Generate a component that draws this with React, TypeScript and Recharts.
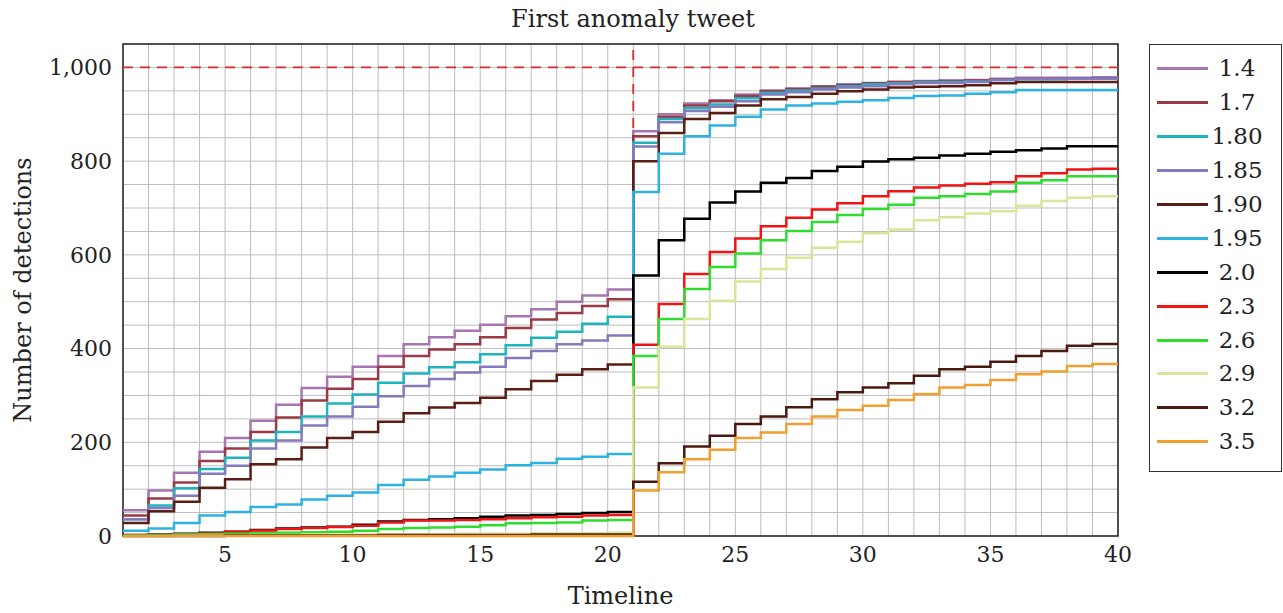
import React from 'react';
import {
    CartesianGrid,
    Label,
    Legend,
    Line,
    LineChart,
    ReferenceArea,
    ReferenceLine,
    XAxis,
    YAxis,
} from 'recharts';

const timeline = [
    1, 2, 3, 4, 5, 6, 7, 8, 9, 10, 11, 12, 13, 14, 15, 16, 17, 18, 19, 20,
    21, 22, 23, 24, 25, 26, 27, 28, 29, 30, 31, 32, 33, 34, 35, 36, 37, 38, 39, 40,
];
const xLabelTicks = [5, 10, 15, 20, 25, 30, 35, 40];
const yTicks = [0, 50, 100, 150, 200, 250, 300, 350, 400, 450, 500, 550, 600, 650, 700, 750, 800, 850, 900, 950, 1000, 1050];
const yLabelTicks = [0, 200, 400, 600, 800, 1000];

const s14 = [55, 97, 135, 180, 209, 246, 280, 316, 340, 361, 384, 409, 424, 438, 451, 469, 484, 500, 513, 526,
    864, 900, 923, 930, 942, 951, 955, 960, 964, 967, 969, 971, 972, 973, 976, 978, 978, 978, 979, 979];
const s17 = [44, 80, 114, 160, 187, 222, 253, 289, 314, 335, 361, 384, 398, 409, 424, 444, 462, 476, 491, 505,
    853, 895, 919, 928, 939, 949, 954, 959, 962, 966, 969, 970, 971, 972, 974, 976, 976, 977, 977, 977];
const s180 = [36, 65, 102, 143, 167, 204, 222, 255, 283, 302, 327, 347, 360, 371, 388, 407, 423, 436, 453, 468,
    839, 890, 913, 921, 934, 946, 951, 955, 960, 964, 966, 969, 969, 970, 973, 975, 975, 976, 976, 976];
const s185 = [36, 60, 86, 133, 150, 187, 204, 236, 255, 276, 298, 320, 335, 349, 361, 380, 395, 409, 417, 428,
    831, 883, 907, 916, 928, 942, 947, 953, 957, 960, 964, 967, 967, 969, 973, 976, 976, 976, 976, 976];
const s190 = [28, 53, 73, 103, 121, 153, 164, 189, 209, 222, 244, 262, 274, 284, 295, 313, 331, 344, 356, 366,
    800, 860, 890, 903, 919, 932, 937, 944, 949, 953, 957, 959, 960, 962, 966, 969, 969, 969, 969, 969];
const s195 = [11, 16, 28, 44, 51, 62, 67, 78, 86, 93, 109, 120, 127, 135, 142, 151, 156, 165, 169, 175,
    734, 816, 853, 876, 895, 910, 919, 923, 927, 930, 935, 939, 940, 944, 947, 952, 952, 952, 952, 952];
const s20 = [2, 3, 5, 7, 9, 13, 16, 18, 20, 24, 31, 34, 36, 38, 41, 44, 45, 47, 49, 51,
    556, 631, 677, 712, 735, 754, 764, 779, 788, 799, 804, 807, 812, 816, 820, 823, 827, 832, 832, 832];
const s23 = [1, 2, 4, 6, 9, 12, 15, 17, 19, 22, 29, 33, 33, 34, 36, 38, 40, 41, 44, 45,
    408, 495, 559, 606, 635, 661, 679, 697, 710, 725, 736, 744, 748, 752, 755, 768, 774, 782, 784, 784];
const s26 = [1, 2, 3, 4, 5, 6, 7, 8, 9, 11, 15, 17, 18, 20, 23, 27, 28, 29, 33, 34,
    384, 463, 527, 574, 603, 631, 651, 670, 685, 698, 707, 722, 725, 730, 735, 754, 759, 768, 768, 768];
const s29 = [0, 0, 1, 1, 1, 2, 2, 3, 3, 3, 4, 4, 4, 5, 5, 5, 6, 6, 6, 7,
    317, 404, 463, 502, 543, 570, 594, 615, 628, 646, 654, 674, 680, 688, 693, 705, 715, 722, 725, 725];
const s32 = [0, 0, 0, 0, 1, 1, 1, 1, 1, 1, 2, 2, 2, 2, 2, 2, 3, 3, 3, 3,
    116, 155, 191, 214, 239, 255, 275, 292, 307, 317, 326, 342, 356, 361, 372, 384, 395, 406, 410, 410];
const s35 = [0, 0, 0, 0, 0, 0, 0, 0, 0, 0, 0, 0, 0, 0, 0, 0, 0, 0, 0, 0,
    97, 136, 164, 184, 209, 221, 239, 255, 269, 278, 290, 303, 317, 322, 333, 345, 351, 363, 367, 367];

const series = [
    { key: 's14', name: '1.4', color: '#a776b2', values: s14 },
    { key: 's17', name: '1.7', color: '#9a3a44', values: s17 },
    { key: 's180', name: '1.80', color: '#1fb3be', values: s180 },
    { key: 's185', name: '1.85', color: '#857abd', values: s185 },
    { key: 's190', name: '1.90', color: '#5a1e14', values: s190 },
    { key: 's195', name: '1.95', color: '#2db2e2', values: s195 },
    { key: 's20', name: '2.0', color: '#000000', values: s20 },
    { key: 's23', name: '2.3', color: '#f01414', values: s23 },
    { key: 's26', name: '2.6', color: '#30dc30', values: s26 },
    { key: 's29', name: '2.9', color: '#d9e59a', values: s29 },
    { key: 's32', name: '3.2', color: '#4a1a10', values: s32 },
    { key: 's35', name: '3.5', color: '#f0a030', values: s35 },
];

const data = timeline.map((t, i) => {
    const row: Record<string, number> = { t };
    series.forEach(s => { row[s.key] = s.values[i]; });
    return row;
});

const FONT = '"DejaVu Serif", serif';
const tickStyle = { fontFamily: FONT, fontSize: 22, fill: '#222' };

function renderLegend(props: any) {
    const payload = props.payload || [];
    return (
        <div style={{
            width: 131, height: 419, border: '1.5px solid #333', background: '#fff',
            paddingTop: 7, boxSizing: 'content-box', fontFamily: FONT, fontSize: 23, color: '#222',
        }}>
            {payload.map((entry: any) => (
                <div key={entry.value} style={{ height: 33.9, display: 'flex', alignItems: 'center' }}>
                    <div style={{ marginLeft: 7, width: 51, height: 3, background: entry.color }}/>
                    <div style={{ width: 58, textAlign: 'center', lineHeight: 1 }}>{entry.value}</div>
                </div>
            ))}
        </div>
    );
}

export default function App(): JSX.Element {
    return (
        <div style={{ position: 'absolute', left: 0, top: 0, width: 1283, height: 613, background: '#fff' }}>
            <div style={{
                position: 'absolute', left: 433, width: 400, top: 5, textAlign: 'center',
                fontFamily: FONT, fontSize: 24, color: '#222', lineHeight: 1.2,
            }}>
                First anomaly tweet
            </div>
            <LineChart width={1283} height={613} data={data} margin={{ top: 44, right: 165, bottom: 37, left: 0 }}>
                <CartesianGrid stroke="#bdbdbd" strokeWidth={1}/>
                <XAxis
                    dataKey="t"
                    type="number"
                    domain={[1, 40]}
                    ticks={timeline}
                    interval={0}
                    height={40}
                    tickLine={false}
                    axisLine={false}
                    tickMargin={4}
                    tick={tickStyle}
                    tickFormatter={(v: number) => (xLabelTicks.includes(v) ? String(v) : '')}
                >
                    <Label value="Timeline" position="bottom" offset={11}
                        style={{ fontFamily: FONT, fontSize: 24, fill: '#222' }}/>
                </XAxis>
                <YAxis
                    type="number"
                    domain={[0, 1050]}
                    ticks={yTicks}
                    interval={0}
                    width={123}
                    tickLine={false}
                    axisLine={false}
                    tickMargin={5}
                    tick={tickStyle}
                    tickFormatter={(v: number) => (yLabelTicks.includes(v) ? v.toLocaleString('en-US') : '')}
                >
                    <Label value="Number of detections" angle={-90} position="insideLeft" offset={22}
                        style={{ fontFamily: FONT, fontSize: 24, fill: '#222', textAnchor: 'middle' }}/>
                </YAxis>
                <ReferenceLine y={1000} stroke="#e02a2a" strokeWidth={1.8} strokeDasharray="10 7"/>
                <ReferenceLine x={21} stroke="#e02a2a" strokeWidth={1.8} strokeDasharray="10 7"/>
                {series.map(s => (
                    <Line
                        key={s.key}
                        dataKey={s.key}
                        name={s.name}
                        type="stepAfter"
                        stroke={s.color}
                        strokeWidth={2.5}
                        dot={false}
                        isAnimationActive={false}
                    />
                ))}
                <ReferenceArea x1={1} x2={40} y1={0} y2={1050} fill="none" fillOpacity={0}
                    stroke="#222" strokeWidth={1.5}/>
                <Legend
                    layout="vertical"
                    align="center"
                    verticalAlign="middle"
                    wrapperStyle={{ left: 1149, top: 44, width: 134 }}
                    content={renderLegend}
                />
            </LineChart>
        </div>
    );
}
